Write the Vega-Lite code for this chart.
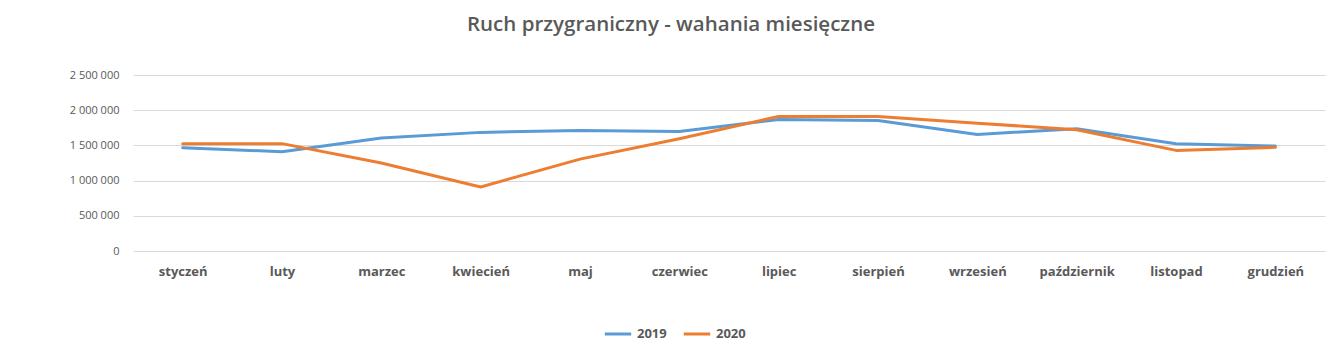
{
  "$schema": "https://vega.github.io/schema/vega-lite/v6.json",
  "autosize": "none",
  "width": 1192,
  "height": 176,
  "padding": {"left": 133, "top": 75, "right": 18, "bottom": 103},
  "background": "white",
  "config": {
    "font": "Open Sans",
    "view": {"stroke": null},
    "locale": {"number": {"decimal": ",", "thousands": " ", "grouping": [3], "currency": ["", " zł"]}}
  },
  "title": {
    "text": "Ruch przygraniczny - wahania miesięczne",
    "fontSize": 20.5,
    "fontWeight": 600,
    "color": "#595959",
    "anchor": "middle",
    "dx": -58,
    "offset": 34
  },
  "data": {
    "values": [
      {"m": "styczeń", "y": "2019", "v": 1467000},
      {"m": "luty", "y": "2019", "v": 1410000},
      {"m": "marzec", "y": "2019", "v": 1604000},
      {"m": "kwiecień", "y": "2019", "v": 1685000},
      {"m": "maj", "y": "2019", "v": 1713000},
      {"m": "czerwiec", "y": "2019", "v": 1699000},
      {"m": "lipiec", "y": "2019", "v": 1869000},
      {"m": "sierpień", "y": "2019", "v": 1855000},
      {"m": "wrzesień", "y": "2019", "v": 1656000},
      {"m": "październik", "y": "2019", "v": 1737000},
      {"m": "listopad", "y": "2019", "v": 1524000},
      {"m": "grudzień", "y": "2019", "v": 1490000},
      {"m": "styczeń", "y": "2020", "v": 1525000},
      {"m": "luty", "y": "2020", "v": 1525000},
      {"m": "marzec", "y": "2020", "v": 1249000},
      {"m": "kwiecień", "y": "2020", "v": 910000},
      {"m": "maj", "y": "2020", "v": 1305000},
      {"m": "czerwiec", "y": "2020", "v": 1595000},
      {"m": "lipiec", "y": "2020", "v": 1912000},
      {"m": "sierpień", "y": "2020", "v": 1912000},
      {"m": "wrzesień", "y": "2020", "v": 1815000},
      {"m": "październik", "y": "2020", "v": 1723000},
      {"m": "listopad", "y": "2020", "v": 1429000},
      {"m": "grudzień", "y": "2020", "v": 1472000}
    ]
  },
  "mark": {"type": "line", "strokeWidth": 3, "strokeCap": "round", "strokeJoin": "round"},
  "encoding": {
    "x": {
      "field": "m",
      "type": "nominal",
      "sort": null,
      "scale": {"type": "point", "padding": 0.5},
      "axis": {
        "title": null,
        "labelAngle": 0,
        "labelFontSize": 13,
        "labelFontWeight": "bold",
        "labelColor": "#595959",
        "labelPadding": 14,
        "ticks": false,
        "domain": false,
        "grid": false
      }
    },
    "y": {
      "field": "v",
      "type": "quantitative",
      "scale": {"domain": [0, 2500000]},
      "axis": {
        "title": null,
        "values": [0, 500000, 1000000, 1500000, 2000000, 2500000],
        "format": ",.0f",
        "labelFontSize": 11,
        "labelColor": "#595959",
        "labelPadding": 14,
        "ticks": false,
        "domain": false,
        "grid": true,
        "gridColor": "#D9D9D9",
        "gridWidth": 1
      }
    },
    "color": {
      "field": "y",
      "type": "nominal",
      "scale": {"domain": ["2019", "2020"], "range": ["#5B9BD5", "#ED7D31"]},
      "legend": {
        "title": null,
        "orient": "none",
        "direction": "horizontal",
        "legendX": 470,
        "legendY": 244,
        "symbolType": "stroke",
        "symbolStrokeWidth": 3,
        "symbolSize": 700,
        "labelFontSize": 13,
        "labelFontWeight": "bold",
        "labelColor": "#595959",
        "columnPadding": 10
      }
    }
  }
}
